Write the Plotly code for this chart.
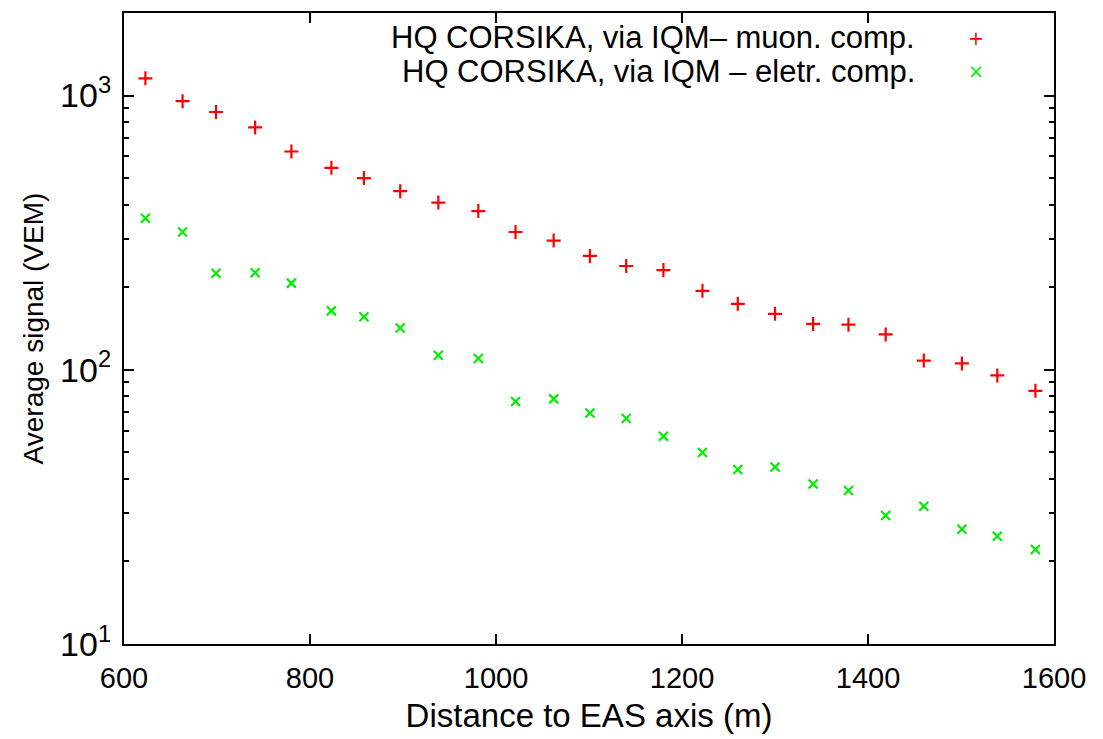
import plotly.graph_objects as go

# Distance to EAS axis (m)
distance = [623, 663, 699, 741, 780, 823, 858, 897, 938, 981, 1021, 1062, 1101,
            1140, 1180, 1222, 1260, 1300, 1341, 1379, 1419, 1460, 1501, 1539, 1580]

# Average signal (VEM) - muonic component
muon_signal = [1156, 954, 871, 765, 625, 545, 500, 448, 407, 379, 318, 296, 260,
               239, 231, 194, 174, 160, 147, 146, 134.5, 108, 105.5, 95.4, 83.8]

# Average signal (VEM) - electromagnetic component
elec_signal = [357, 318, 225, 226, 207, 164, 156, 142, 113, 110, 76.6, 78.3, 69.6,
               66.4, 57.2, 49.9, 43.3, 44.2, 38.3, 36.3, 29.4, 31.8, 26.2, 24.7, 22.1]

x_ticks = [600, 800, 1000, 1200, 1400, 1600]
y_ticks = [10, 100, 1000]
y_ticktext = ["10<sup>1</sup>", "10<sup>2</sup>", "10<sup>3</sup>"]

muon_label = "HQ CORSIKA, via IQM\u2013 muon. comp."
elec_label = "HQ CORSIKA, via IQM \u2013 eletr. comp."

RED = "#ff0000"
GREEN = "#00ee00"
FONT = "Liberation Sans, Arial, sans-serif"

fig = go.Figure()
fig.add_trace(go.Scatter(
    x=distance, y=muon_signal, mode="markers", name=muon_label,
    marker=dict(symbol="cross-thin", size=10, color=RED,
                line=dict(color=RED, width=2.2)),
    showlegend=False))
fig.add_trace(go.Scatter(
    x=distance, y=elec_signal, mode="markers", name=elec_label,
    marker=dict(symbol="x-thin", size=9, color=GREEN,
                line=dict(color=GREEN, width=2.2)),
    showlegend=False))

# legend built from text (gnuplot style: text right-justified, key sample to the right)
leg_y = [0.961, 0.908]
for lbl, col, sym, yy in [(muon_label, RED, "+", leg_y[0]), (elec_label, GREEN, "\u00d7", leg_y[1])]:
    fig.add_annotation(xref="paper", yref="paper", x=0.853, y=yy, text=lbl,
                       showarrow=False, xanchor="right", yanchor="middle",
                       font=dict(family=FONT, size=31, color="black"))
    fig.add_annotation(xref="paper", yref="paper", x=0.916, y=yy, text=sym,
                       showarrow=False, xanchor="center", yanchor="middle",
                       font=dict(family="DejaVu Sans", size=19, color=col))

axis_common = dict(showline=True, linecolor="black", linewidth=2, mirror="ticks",
                   ticks="inside", tickcolor="black", tickwidth=1.5,
                   showgrid=False, zeroline=False)

fig.update_xaxes(range=[600, 1600], tickvals=x_ticks,
                 ticklen=10, ticklabelstandoff=7,
                 tickfont=dict(family=FONT, size=29, color="black"),
                 title=dict(text="Distance to EAS axis (m)",
                            font=dict(family=FONT, size=33, color="black"), standoff=11),
                 **axis_common)
fig.update_yaxes(type="log", range=[1, 3.301], tickvals=y_ticks, ticktext=y_ticktext,
                 ticklen=10, ticklabelstandoff=4,
                 tickfont=dict(family=FONT, size=34, color="black"),
                 minor=dict(ticks="inside", ticklen=5, tickcolor="black", tickwidth=1.5,
                            dtick="D1", showgrid=False),
                 title=dict(text="Average signal (VEM)",
                            font=dict(family=FONT, size=28, color="black"), standoff=8),
                 **axis_common)

fig.update_layout(width=1103, height=739, autosize=False,
                  margin=dict(l=124, r=49, t=11, b=90),
                  paper_bgcolor="white", plot_bgcolor="white")

fig.write_html("out.html")
